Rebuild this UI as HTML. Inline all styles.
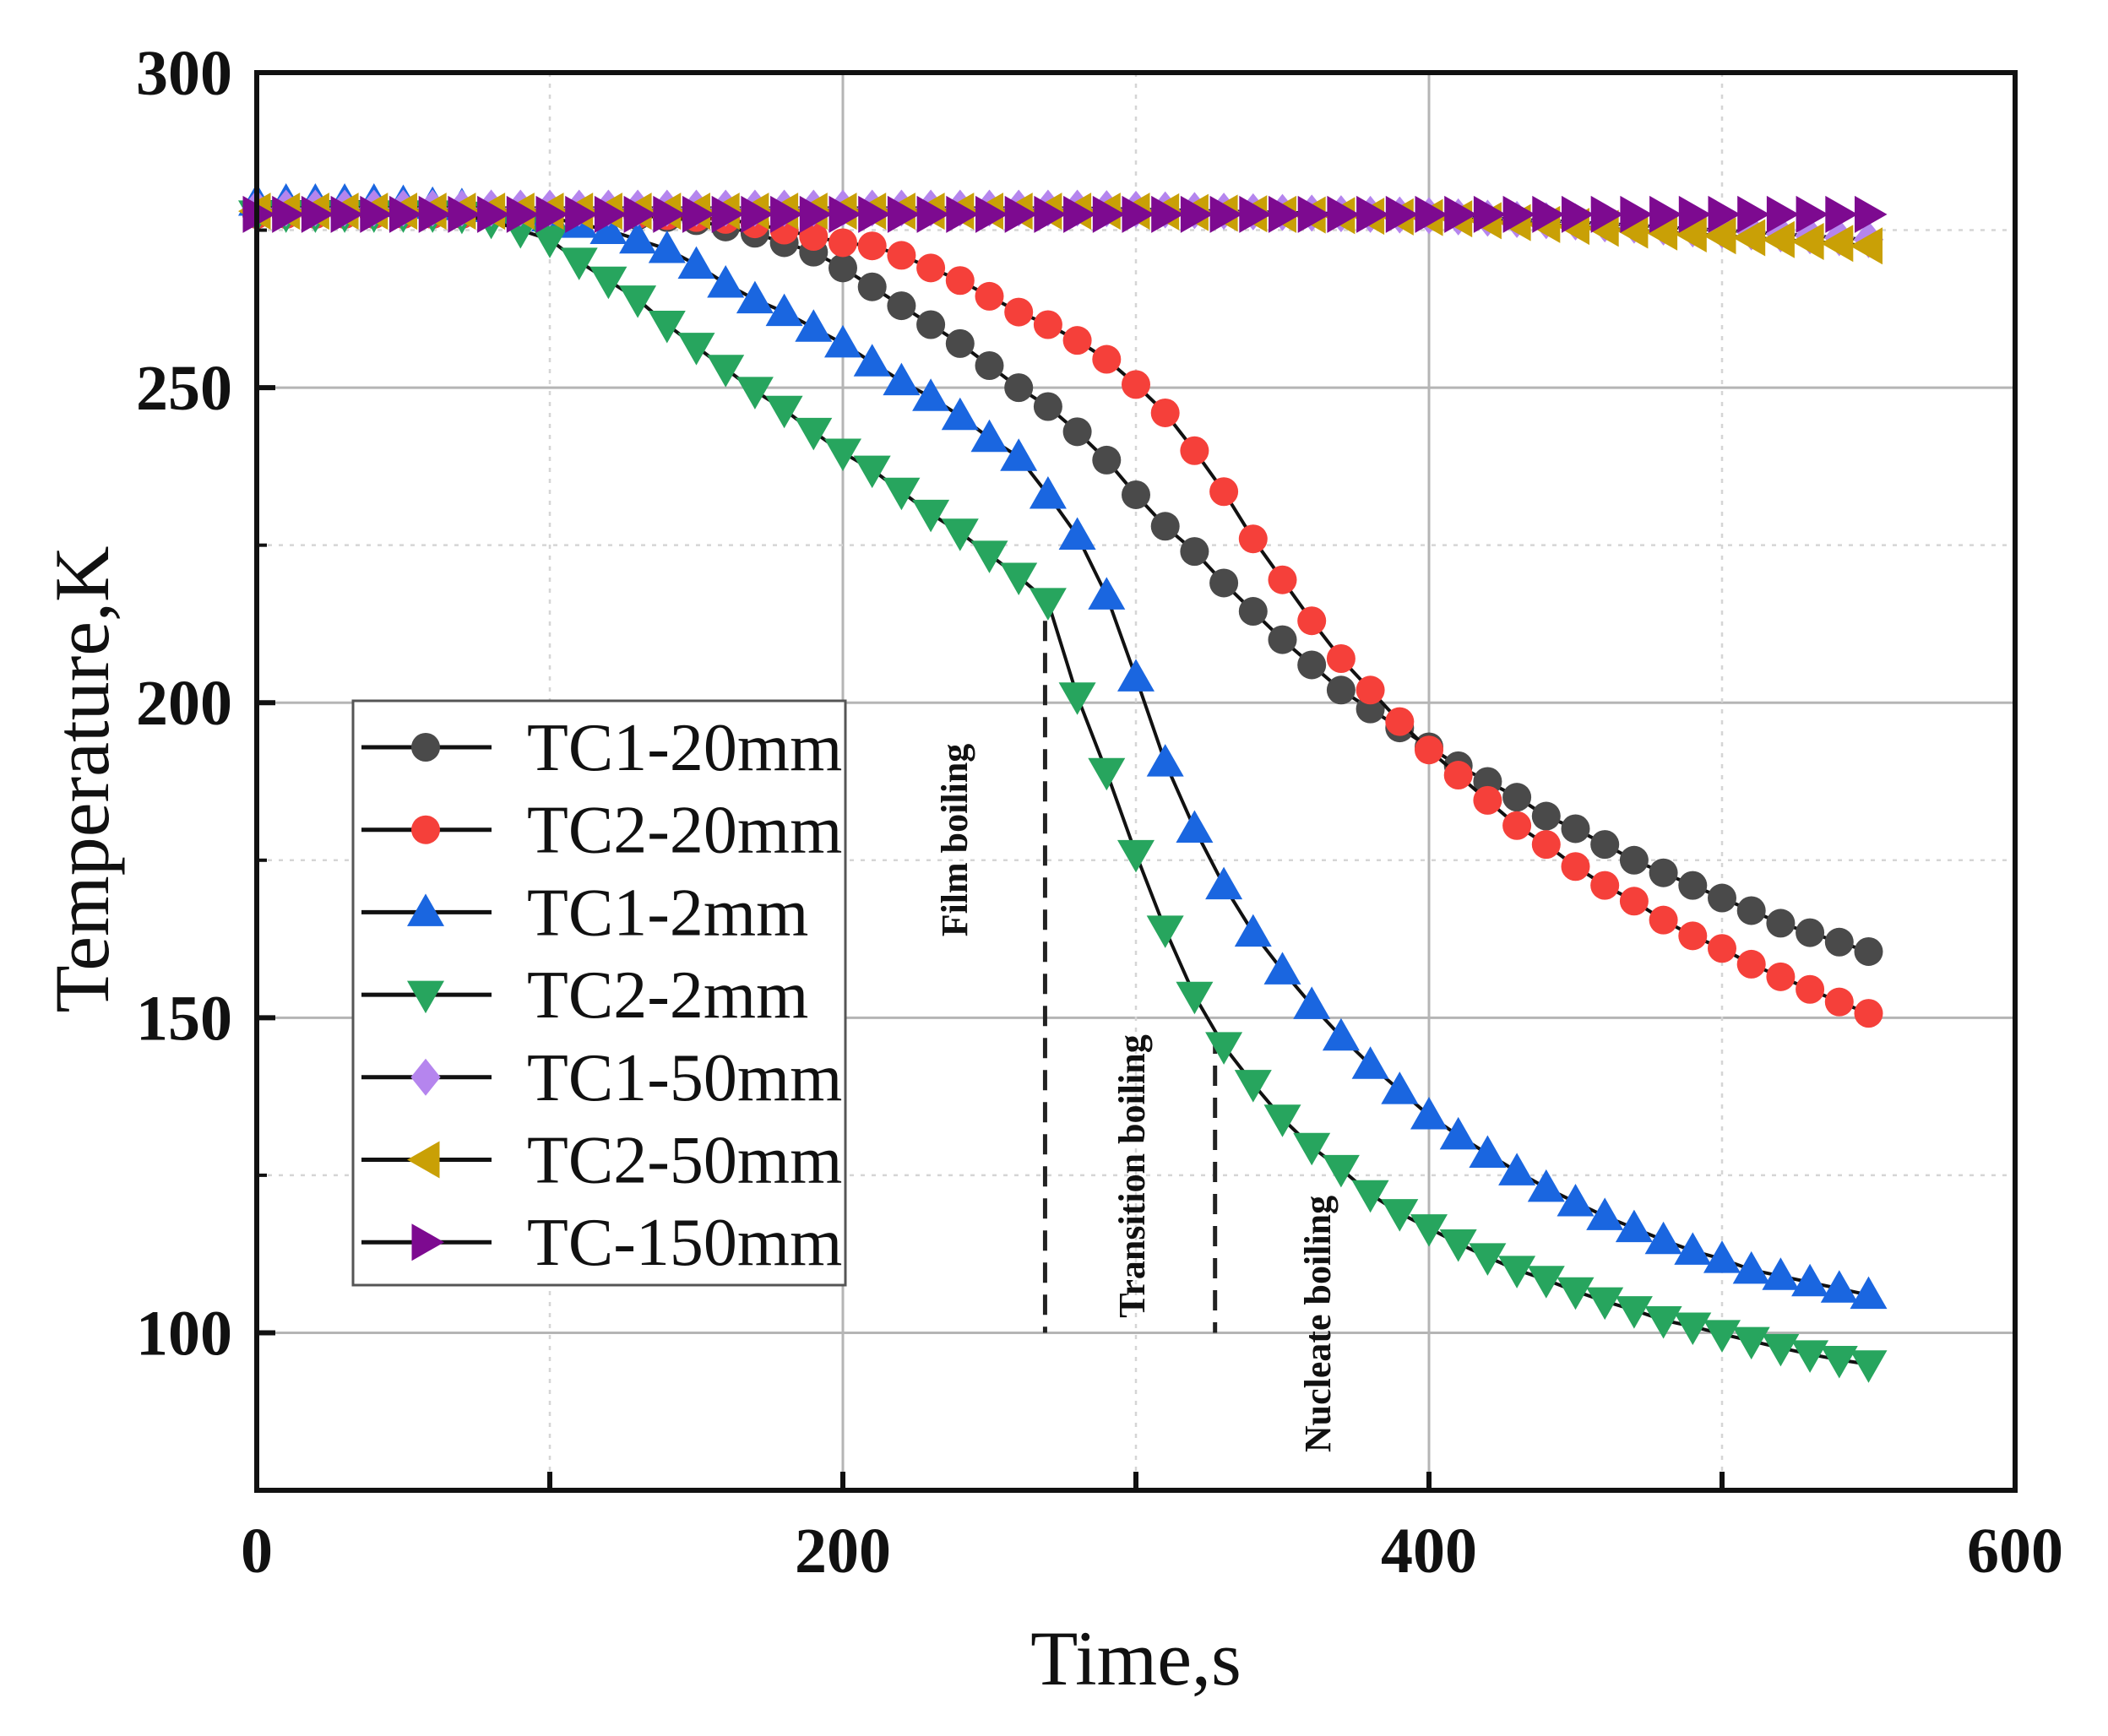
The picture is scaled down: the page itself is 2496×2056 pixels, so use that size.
<!DOCTYPE html>
<html><head><meta charset="utf-8"><style>
html,body{margin:0;padding:0;background:#fff;}
svg{display:block;}
text{font-family:"Liberation Serif",serif;}
</style></head><body>
<svg id="chart" width="2496" height="2056" viewBox="0 0 2496 2056" xmlns="http://www.w3.org/2000/svg">
<g id="grid"></g>
<g id="annot"></g>
<g id="series"></g>
<g id="axes"></g>
<g id="legend"></g>
</svg>
<script>
const times = [0,10,20,30,40,50,60,70,80,90,100,110,120,130,140,150,160,170,180,190,200,210,220,230,240,250,260,270,280,290,300,310,320,330,340,350,360,370,380,390,400,410,420,430,440,450,460,470,480,490,500,510,520,530,540,550];
const tc1_20 = [277.5,277.5,277.5,277.5,277.5,277.5,277.5,277.5,277.5,277.5,277.5,277.5,277.5,277.3,277,276.5,275.5,274.5,273,271.5,269,266,263,260,257,253.5,250,247,243,238.5,233,228,224,219,214.5,210,206,202,199,196,193,190,187.5,185,182,180,177.5,175,173,171,169,167,165,163.5,162,160.5];
const tc2_20 = [277.5,277.5,277.5,277.5,277.5,277.5,277.5,277.5,277.5,277.5,277.5,277.5,277.5,277.5,277.3,277,276.7,276,275,274,273,272.5,271,269,267,264.5,262,260,257.5,254.5,250.5,246,240,233.5,226,219.5,213,207,202,197,192.5,188.5,184.5,180.5,177.5,174,171,168.5,165.5,163,161,158.5,156.5,154.5,152.5,150.7];
const tc1_2 = [279.5,279.5,279.5,279.5,279.5,279.3,279,278.8,278.5,278,277,276,275,273.5,272,269.5,266.5,264,262,259.5,257,254,251,248.5,245.5,242,239,233,226.5,217,204,190.5,180,171,163.5,157.5,152,147,142.5,138.5,134.5,131.3,128.4,125.6,123,120.7,118.5,116.6,114.7,113,111.7,110,109,108,107,106];
const tc2_2 = [277.5,277.5,277.5,277.5,277.5,277.5,277.5,277.3,276.5,275,273.5,270,267,264,260,256.5,253,249.5,246.5,243,239.7,237,233.5,230,227,223.5,220,216,201,189,176,164,153.5,145.5,139.5,134,129.5,126,122,119,116.6,114.2,112,110,108.4,106.6,105,103.6,102,101,99.8,98.7,97.6,96.6,95.7,95];
const tc1_50 = [278.5,278.5,278.5,278.5,278.5,278.5,278.5,278.5,278.5,278.5,278.5,278.5,278.5,278.5,278.5,278.5,278.5,278.5,278.5,278.5,278.5,278.5,278.5,278.5,278.5,278.5,278.5,278.5,278.5,278.4,278.3,278.2,278.1,278,277.9,277.8,277.7,277.6,277.5,277.4,277.3,277.1,276.9,276.7,276.5,276.3,276,275.8,275.5,275.2,275,274.7,274.4,274.1,273.8,273.5];
const tc2_50 = [278,278,278,278,278,278,278,278,278,278,278,278,278,278,278,278,278,278,278,278,278,278,278,278,278,278,278,278,278,278,278,277.9,277.8,277.7,277.6,277.5,277.4,277.3,277.2,277.1,277,276.8,276.5,276.2,275.9,275.6,275.3,275,274.7,274.4,274.1,273.8,273.5,273.2,272.9,272.5];
const tc_150 = [277.5,277.5,277.5,277.5,277.5,277.5,277.5,277.5,277.5,277.5,277.5,277.5,277.5,277.5,277.5,277.5,277.5,277.5,277.5,277.5,277.5,277.5,277.5,277.5,277.5,277.5,277.5,277.5,277.5,277.5,277.5,277.5,277.5,277.5,277.5,277.5,277.5,277.5,277.5,277.5,277.5,277.5,277.5,277.5,277.5,277.5,277.5,277.5,277.5,277.5,277.5,277.5,277.5,277.5,277.5,277.5];
const seriesNames = ["TC1-20mm","TC2-20mm","TC1-2mm","TC2-2mm","TC1-50mm","TC2-50mm","TC-150mm"];
const xTicks = [0,200,400,600];
const yTicks = [100,150,200,250,300];
const xMinor = [100,300,500];
const yMinor = [125,175,225,275];
const phaseTimes = [269,327];
const phaseTop = [213,147.5];

const L=304,R=2386,T=86,B=1765;
const X0=0,X1=600,Y0=75,Y1=300;
const sx=v=>L+(v-X0)/(X1-X0)*(R-L);
const sy=v=>B-(v-Y0)/(Y1-Y0)*(B-T);
const NS="http://www.w3.org/2000/svg";
function mk(tag,attrs,parent){const e=document.createElementNS(NS,tag);for(const k in attrs)e.setAttribute(k,attrs[k]);parent.appendChild(e);return e;}

const grid=document.getElementById('grid');
yTicks.forEach(v=>{if(v>Y0&&v<Y1){const l=mk('line',{x1:L,x2:R,y1:sy(v),y2:sy(v),stroke:'#b5b5b5','stroke-width':3},grid);

}});
xTicks.forEach(v=>{if(v>X0&&v<X1){const l=mk('line',{x1:sx(v),x2:sx(v),y1:T,y2:B,stroke:'#b5b5b5','stroke-width':3},grid);

}});
yMinor.forEach(v=>{const l=mk('line',{x1:L,x2:R,y1:sy(v),y2:sy(v),stroke:'#d5d5d5','stroke-width':2.5,'stroke-dasharray':'5 8'},grid);

});
xMinor.forEach(v=>{const l=mk('line',{x1:sx(v),x2:sx(v),y1:T,y2:B,stroke:'#d5d5d5','stroke-width':2.5,'stroke-dasharray':'5 8'},grid);

});

const annot=document.getElementById('annot');
phaseTimes.forEach((t,i)=>{const l=mk('line',{x1:sx(t),x2:sx(t),y1:sy(phaseTop[i]),y2:sy(100),stroke:'#222','stroke-width':5,'stroke-dasharray':'24 14'},annot);

});
const labels=[["Film boiling",1135,995],["Transition boiling",1345,1393],["Nucleate boiling",1565,1568]];
labels.forEach(([s,x,y])=>{const e=mk('text',{x:x,y:y,transform:`rotate(-90 ${x} ${y})`,'text-anchor':'middle','font-size':44,'font-weight':'bold',fill:'#111','dominant-baseline':'middle'},annot);e.textContent=s;

});

function marker(shape,color,x,y,parent){
 const r=17,s=22;
 if(shape==='circle')return mk('circle',{cx:x,cy:y,r:r,fill:color},parent);
 let p;
 if(shape==='up')p=[[x,y-s],[x+s,y+s*0.75],[x-s,y+s*0.75]];
 else if(shape==='down')p=[[x,y+s],[x+s,y-s*0.75],[x-s,y-s*0.75]];
 else if(shape==='left')p=[[x-s,y],[x+s*0.75,y-s],[x+s*0.75,y+s]];
 else if(shape==='right')p=[[x+s,y],[x-s*0.75,y-s],[x-s*0.75,y+s]];
 else p=[[x,y-s],[x+s*0.8,y],[x,y+s],[x-s*0.8,y]];
 return mk('polygon',{points:p.map(q=>q.join(',')).join(' '),fill:color},parent);
}
const defs=[[tc1_20,'circle','#4a4a4a'],[tc2_20,'circle','#f5403a'],[tc1_2,'up','#1a66e0'],[tc2_2,'down','#27a55e'],[tc1_50,'diamond','#b585ee'],[tc2_50,'left','#c9a006'],[tc_150,'right','#7d0a90']];
const sg=document.getElementById('series');
defs.forEach(([vals,shape,color],i)=>{
 const g=mk('g',{},sg);
 
 
 const pl=mk('polyline',{points:times.map((t,j)=>sx(t)+','+sy(vals[j])).join(' '),fill:'none',stroke:'#111','stroke-width':4},g);
 
 
 times.forEach((t,j)=>{const m=marker(shape,color,sx(t),sy(vals[j]),g);
 
 });
});

const ax=document.getElementById('axes');
const frame=mk('rect',{x:L,y:T,width:R-L,height:B-T,fill:'none',stroke:'#111','stroke-width':6},ax);


yTicks.forEach(v=>{const tk=mk('line',{x1:L,x2:L+22,y1:sy(v),y2:sy(v),stroke:'#111','stroke-width':6},ax);


const e=mk('text',{x:275,y:sy(v)+26,'text-anchor':'end','font-size':76,'font-weight':'bold',fill:'#111'},ax);e.textContent=v;

});
xMinor.forEach(v=>{const tk=mk('line',{x1:sx(v),x2:sx(v),y1:B,y2:B-22,stroke:'#111','stroke-width':6},ax);

});
yMinor.forEach(v=>{const tk=mk('line',{x1:L,x2:L+12,y1:sy(v),y2:sy(v),stroke:'#111','stroke-width':4},ax);

});
xTicks.forEach(v=>{const tk=mk('line',{x1:sx(v),x2:sx(v),y1:B,y2:B-22,stroke:'#111','stroke-width':6},ax);


const e=mk('text',{x:sx(v),y:1862,'text-anchor':'middle','font-size':76,'font-weight':'bold',fill:'#111'},ax);e.textContent=v;

});
const xt=mk('text',{x:1345,y:1995,'text-anchor':'middle','font-size':92,fill:'#111'},ax);xt.textContent='Time,s';


const yt=mk('text',{x:128,y:923,'text-anchor':'middle','font-size':92,fill:'#111',transform:'rotate(-90 128 923)'},ax);yt.textContent='Temperature,K';



const lg=document.getElementById('legend');
const box=mk('rect',{x:418,y:830,width:583,height:692,fill:'#fff',stroke:'#555','stroke-width':3},lg);


defs.forEach(([vals,shape,color],i)=>{
 const y=885+i*97.7;
 const g=mk('g',{},lg);
 
 
 mk('line',{x1:428,x2:582,y1:y,y2:y,stroke:'#111','stroke-width':5},g);
 marker(shape,color,504,y,g);
 const e=mk('text',{x:624,y:y+27,'font-size':80,fill:'#111'},g);e.textContent=seriesNames[i];
});
</script>
</body></html>
